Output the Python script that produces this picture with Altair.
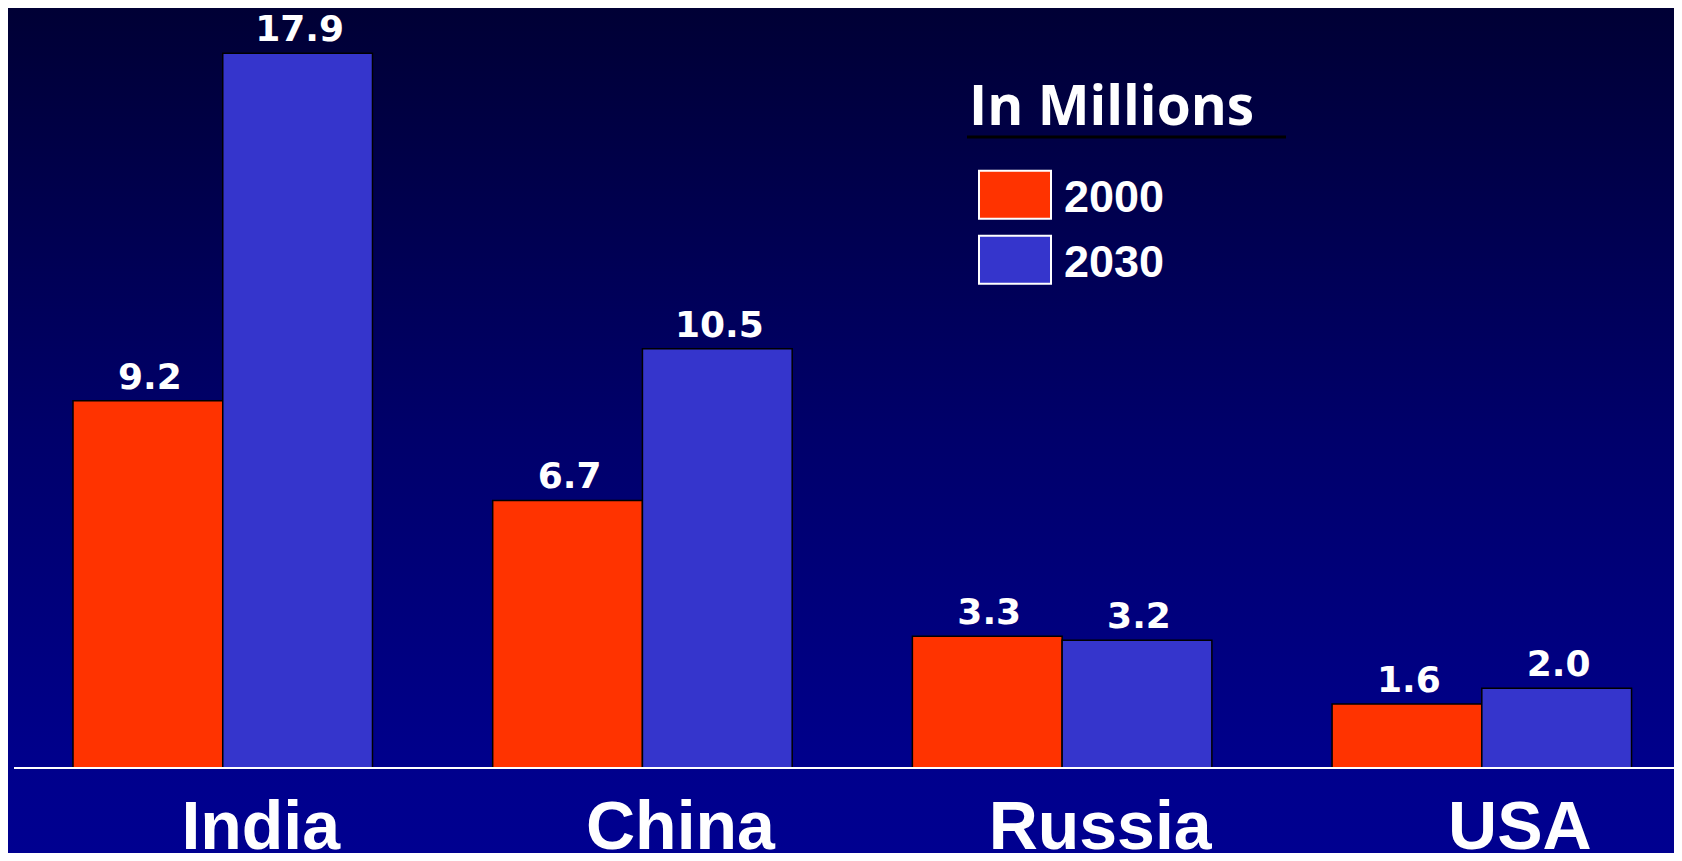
import altair as alt
import pandas as pd

# ---- data ----
countries = ["India", "China", "Russia", "USA"]
years = ["2000", "2030"]
values_2000 = [9.2, 6.7, 3.3, 1.6]
values_2030 = [17.9, 10.5, 3.2, 2.0]
legend_title = "In Millions"
year_colors = ["#FF3300", "#3535CC"]

rows = []
for c, a, b in zip(countries, values_2000, values_2030):
    rows.append({"country": c, "year": years[0], "value": a})
    rows.append({"country": c, "year": years[1], "value": b})
df = pd.DataFrame(rows)
one = pd.DataFrame({"k": [0]})

# ---- layout ----
W, H = 1666, 845
BASE = 760            # pixel row of the zero line
PX_PER_UNIT = 39.93
y_max = BASE / PX_PER_UNIT
y_min = -(H - BASE) / PX_PER_UNIT

x_enc = alt.X(
    "country:N", sort=countries, title=None,
    scale=alt.Scale(paddingInner=0.2864, paddingOuter=0.128, align=0.605),
    axis=alt.Axis(orient="bottom", offset=BASE - H, domain=False, ticks=False, tickSize=0,
                  grid=False, labelFont="Liberation Sans", labelFontWeight="bold",
                  labelFontSize=68, labelColor="white", labelBaseline="alphabetic",
                  labelPadding=80, labelOffset=38, labelAngle=0, labelLimit=0,
                  labelOverlap=False, zindex=1),
)
xoff = alt.XOffset("year:N", sort=years, scale=alt.Scale(paddingInner=0, paddingOuter=0))
y_enc = alt.Y("value:Q", scale=alt.Scale(domain=[y_min, y_max], nice=False, zero=False), axis=None)

bg = alt.Chart(one).mark_rect(
    color=alt.Gradient(
        gradient="linear",
        stops=[alt.GradientStop(color="#000035", offset=0),
               alt.GradientStop(color="#00006A", offset=0.5),
               alt.GradientStop(color="#00008C", offset=0.9),
               alt.GradientStop(color="#000090", offset=1)],
        x1=0, x2=0, y1=0, y2=1),
).encode(x=alt.value(0), x2=alt.value(W), y=alt.value(0), y2=alt.value(H))

bars = alt.Chart(df).mark_bar(stroke="black", strokeWidth=1.5, opacity=1).encode(
    x=x_enc, xOffset=xoff, y=y_enc, y2=alt.datum(0),
    color=alt.Color(
        "year:N", sort=years,
        scale=alt.Scale(domain=years, range=year_colors),
        legend=alt.Legend(
            title=None, orient="none", legendX=982, legendY=165, direction="vertical",
            symbolType="M-1.5,-1.14H1.5V0.86H-1.5Z", symbolSize=2304,
            symbolStrokeWidth=2, symbolStrokeColor="white", symbolOpacity=1,
            labelFont="Liberation Sans", labelFontWeight="bold", labelFontSize=45,
            labelColor="white", labelOffset=24, rowPadding=8, padding=0, zindex=1,
        ),
    ),
)

value_labels = alt.Chart(df).mark_text(
    dy=-12, dx=2, baseline="alphabetic", align="center", font="DejaVu Sans",
    fontWeight="bold", fontSize=36, color="white",
).encode(x=x_enc, xOffset=xoff, y=y_enc, text=alt.Text("value:Q", format=".1f"))

zero_line = alt.Chart(one).mark_rule(color="white", strokeWidth=2).encode(
    y=alt.datum(0), x=alt.value(6), x2=alt.value(W))

title_text = alt.Chart(one).mark_text(
    align="left", baseline="alphabetic", font="Open Sans", fontWeight="bold",
    fontSize=55, color="white",
).encode(x=alt.value(961), y=alt.value(117), text=alt.value(legend_title))

underline = alt.Chart(one).mark_rule(color="black", strokeWidth=3).encode(
    x=alt.value(959), x2=alt.value(1278), y=alt.value(129))

chart = alt.layer(bg, bars, value_labels, zero_line, title_text, underline).properties(
    width=W, height=H, padding=0, autosize=alt.AutoSizeParams(type="none"),
).configure(background="#00007A").configure_view(stroke=None)

chart.save("out.html", embed_options={"renderer": "svg", "actions": False})
